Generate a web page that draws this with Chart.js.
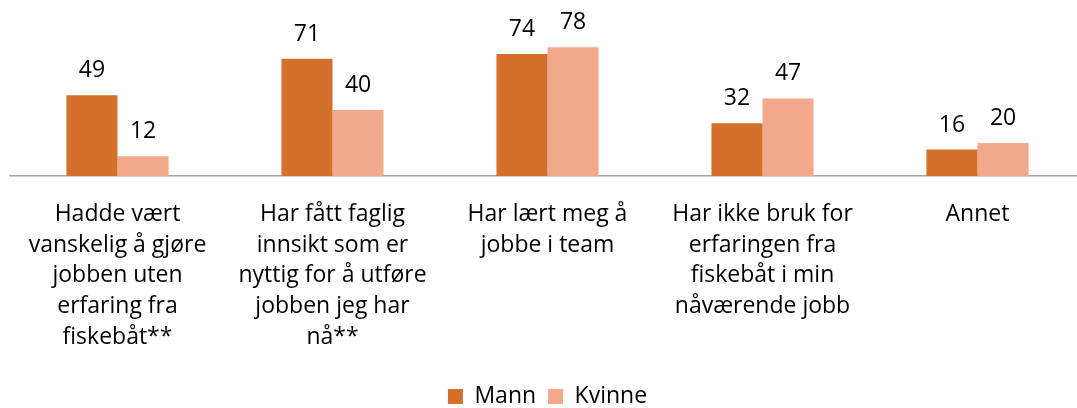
<!DOCTYPE html>
<html>
<head>
<meta charset="utf-8">
<script src="https://cdn.jsdelivr.net/npm/chart.js@4/dist/chart.umd.min.js"></script>
<style>
  html, body { margin: 0; padding: 0; background: #fff; overflow: hidden; }
  #wrap { width: 1085px; height: 408px; }
</style>
</head>
<body>
<div id="wrap"><canvas id="graf"></canvas></div>
<script>
const kategorier = [
  ["Hadde vært", "vanskelig å gjøre", "jobben uten", "erfaring fra", "fiskebåt**"],
  ["Har fått faglig", "innsikt som er", "nyttig for å utføre", "jobben jeg har", "nå**"],
  ["Har lært meg å", "jobbe i team"],
  ["Har ikke bruk for", "erfaringen fra", "fiskebåt i min", "nåværende jobb"],
  ["Annet"]
];
const mann = [49, 71, 74, 32, 16];
const kvinne = [12, 40, 78, 47, 20];

const fonte = "'Open Sans', Lato, sans-serif";

// tegner verdiene over søylene
const verdiEtiketter = {
  id: "verdiEtiketter",
  afterDatasetsDraw(chart) {
    const ctx = chart.ctx;
    ctx.save();
    ctx.font = "23px " + fonte;
    ctx.fillStyle = "#000";
    ctx.textAlign = "center";
    ctx.textBaseline = "alphabetic";
    chart.data.datasets.forEach((ds, i) => {
      chart.getDatasetMeta(i).data.forEach((bar, j) => {
        ctx.fillText(ds.data[j], bar.x, bar.y - 18);
      });
    });
    ctx.restore();
  }
};

new Chart(document.getElementById("graf").getContext("2d"), {
  type: "bar",
  data: {
    labels: kategorier,
    datasets: [
      { label: "Mann", data: mann, backgroundColor: "#D4702C" },
      { label: "Kvinne", data: kvinne, backgroundColor: "#F2A88A" }
    ]
  },
  options: {
    responsive: true,
    maintainAspectRatio: false,
    animation: false,
    layout: { padding: { left: 10, right: 0, top: 11, bottom: -10 } },
    datasets: { bar: { barPercentage: 1, categoryPercentage: 0.475 } },
    plugins: {
      legend: {
        position: "bottom",
        labels: {
          boxWidth: 15,
          boxHeight: 15,
          color: "#000",
          font: { family: fonte, size: 23 },
          padding: 12
        }
      },
      tooltip: { enabled: false }
    },
    scales: {
      x: {
        grid: { display: false },
        border: { display: true, color: "#A6A6A6", width: 1.5 },
        ticks: {
          color: "#000",
          font: { family: fonte, size: 23, lineHeight: 1.337 },
          padding: 15,
          maxRotation: 0,
          autoSkip: false
        },
        afterFit(scale) {
          scale.height = 197;
        }
      },
      y: {
        display: false,
        min: 0,
        max: 100
      }
    }
  },
  plugins: [verdiEtiketter]
});
</script>
</body>
</html>
